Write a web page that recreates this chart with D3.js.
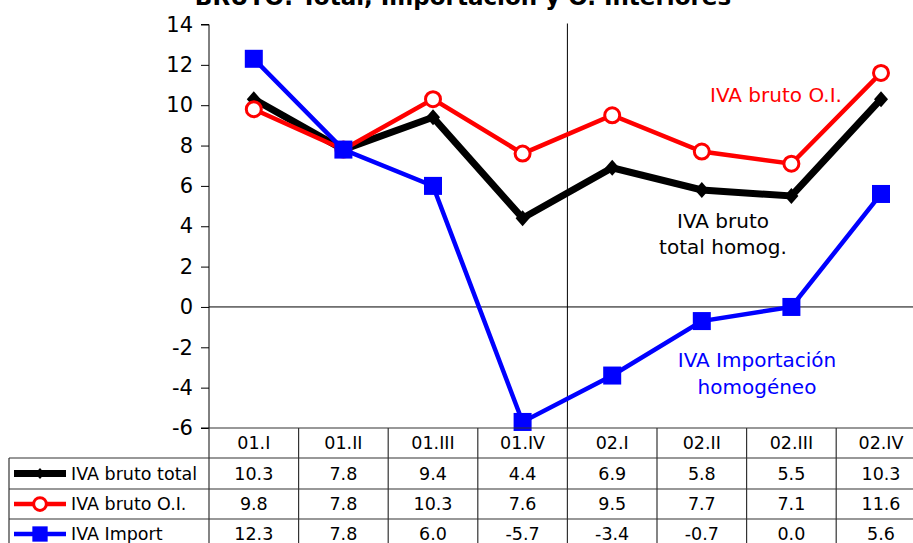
<!DOCTYPE html>
<html>
<head>
<meta charset="utf-8">
<script src="https://cdn.jsdelivr.net/npm/d3@7"></script>
<style>
  body { margin: 0; background: #fff; }
  svg { font-family: "DejaVu Sans", Verdana, sans-serif; }
</style>
</head>
<body>
<svg width="913" height="543"></svg>
<script>
// quarters and series (tasas de variación, %)
const quarters = ["01.I", "01.II", "01.III", "01.IV", "02.I", "02.II", "02.III", "02.IV"];
const ivaTotal = [10.3, 7.8, 9.4, 4.4, 6.9, 5.8, 5.5, 10.3];
const ivaOI = [9.8, 7.8, 10.3, 7.6, 9.5, 7.7, 7.1, 11.6];
const ivaImport = [12.3, 7.8, 6.0, -5.7, -3.4, -0.7, 0.0, 5.6];
const yTicks = [-6, -4, -2, 0, 2, 4, 6, 8, 10, 12, 14];

const series = [
    { name: "IVA bruto total", values: ivaTotal, color: "#000", width: 7, marker: "diamond" },
    { name: "IVA bruto O.I.", values: ivaOI, color: "#ff0000", width: 4.5, marker: "circle" },
    { name: "IVA Import", values: ivaImport, color: "#0000ff", width: 4.5, marker: "square" }
];

const svg = d3.select("svg");
const plotLeft = 209, colW = 89.6;
const plotTop = 24.5, plotBottom = 428;

const x = d3.scaleBand().domain(quarters).range([plotLeft, plotLeft + quarters.length * colW]);
const y = d3.scaleLinear().domain([-6, 14]).range([plotBottom, plotTop]);
const cx = d => x(d) + x.bandwidth() / 2;
// plain hyphen for negatives, like the original
const hy = s => s.replace("\u2212", "-");

// title (cut off at top)
svg.append("text")
    .attr("x", 463).attr("y", 5)
    .attr("text-anchor", "middle")
    .attr("font-weight", "bold").attr("font-size", 23)
    .text("BRUTO: Total, Importación y O. Interiores");

// y axis
const yAxis = svg.append("g")
    .attr("transform", "translate(" + plotLeft + ",0)")
    .call(d3.axisLeft(y).tickValues(yTicks).tickSize(8).tickPadding(8).tickFormat(d => hy(d3.format("d")(d))));
yAxis.select(".domain").attr("stroke", "#000").attr("d", "M-8," + plotTop + "H0V" + plotBottom + "H-8");
yAxis.selectAll("text").attr("font-size", 21).attr("fill", "#000")
    .attr("font-family", "\"DejaVu Sans\", Verdana, sans-serif");
yAxis.selectAll(".tick line").attr("stroke", "#000");

// zero line and year separator
svg.append("line")
    .attr("x1", plotLeft).attr("x2", 913)
    .attr("y1", y(0)).attr("y2", y(0))
    .attr("stroke", "#000").attr("stroke-width", 1);
svg.append("line")
    .attr("x1", x("02.I")).attr("x2", x("02.I"))
    .attr("y1", plotTop - 1).attr("y2", plotBottom)
    .attr("stroke", "#000").attr("stroke-width", 1);

// series lines
const line = d3.line().x((d, i) => cx(quarters[i])).y(d => y(d));
series.forEach(s => {
    svg.append("path")
        .datum(s.values)
        .attr("fill", "none")
        .attr("stroke", s.color)
        .attr("stroke-width", s.width)
        .attr("stroke-linejoin", "miter")
        .attr("d", line);
});

function drawMarker(g, type, px, py, color, k) {
    k = k || 1;
    if (type === "diamond") {
        g.append("path")
            .attr("d", "M" + px + "," + (py - 8 * k) + "L" + (px + 7 * k) + "," + py + "L" + px + "," + (py + 8 * k) + "L" + (px - 7 * k) + "," + py + "Z")
            .attr("fill", color);
    } else if (type === "circle") {
        g.append("circle").attr("cx", px).attr("cy", py).attr("r", 7.5 * k)
            .attr("fill", "#fff").attr("stroke", color).attr("stroke-width", 3);
    } else {
        g.append("rect").attr("x", px - 9 * k).attr("y", py - 9 * k).attr("width", 18 * k).attr("height", 18 * k)
            .attr("fill", color);
    }
}

series.forEach(s => {
    const g = svg.append("g");
    s.values.forEach((v, i) => drawMarker(g, s.marker, cx(quarters[i]), y(v), s.color));
});

// in-chart labels
svg.append("text").attr("x", 776).attr("y", 102).attr("text-anchor", "middle")
    .attr("font-size", 20).attr("fill", "#ff0000").text("IVA bruto O.I.");
const lblTotal = svg.append("text").attr("text-anchor", "middle").attr("font-size", 20).attr("fill", "#000");
lblTotal.append("tspan").attr("x", 723).attr("y", 228).text("IVA bruto");
lblTotal.append("tspan").attr("x", 723).attr("y", 254).text("total homog.");
const lblImp = svg.append("text").attr("text-anchor", "middle").attr("font-size", 20).attr("fill", "#0000ff");
lblImp.append("tspan").attr("x", 757).attr("y", 367).text("IVA Importación");
lblImp.append("tspan").attr("x", 757).attr("y", 394).text("homogéneo");

// data table
const rowH = [30, 31, 30, 30];
const rowY = [plotBottom];
rowH.forEach((h, i) => rowY.push(rowY[i] + h));
const tableRight = plotLeft + quarters.length * colW;
const tbl = svg.append("g").attr("font-size", 17.5).attr("fill", "#000");

// horizontal rules
rowY.forEach((yy, i) => {
    tbl.append("line")
        .attr("x1", i === 0 ? plotLeft : 9).attr("x2", tableRight)
        .attr("y1", yy).attr("y2", yy)
        .attr("stroke", "#333").attr("stroke-width", 1.2);
});
// vertical rules
d3.range(quarters.length + 1).forEach(i => {
    const xx = plotLeft + i * colW;
    tbl.append("line").attr("x1", xx).attr("x2", xx)
        .attr("y1", plotBottom).attr("y2", 543).attr("stroke", "#333").attr("stroke-width", 1.2);
});
tbl.append("line").attr("x1", 9).attr("x2", 9)
    .attr("y1", rowY[1]).attr("y2", 543).attr("stroke", "#333").attr("stroke-width", 1.2);

// header
quarters.forEach(q => {
    tbl.append("text").attr("x", cx(q)).attr("y", rowY[0] + 21)
        .attr("text-anchor", "middle").text(q);
});

// series rows
const fmt = d => hy(d3.format(".1f")(d));
series.forEach((s, r) => {
    const midY = (rowY[r + 1] + rowY[r + 2]) / 2;
    tbl.append("line").attr("x1", 14).attr("x2", 66).attr("y1", midY).attr("y2", midY)
        .attr("stroke", s.color).attr("stroke-width", s.width);
    drawMarker(tbl, s.marker, 40, midY, s.color, s.marker === "diamond" ? 0.7 : 0.85);
    tbl.append("text").attr("x", 71).attr("y", midY + 6).text(s.name);
    s.values.forEach((v, i) => {
        tbl.append("text").attr("x", cx(quarters[i])).attr("y", midY + 6)
            .attr("text-anchor", "middle").text(fmt(v));
    });
});
</script>
</body>
</html>
